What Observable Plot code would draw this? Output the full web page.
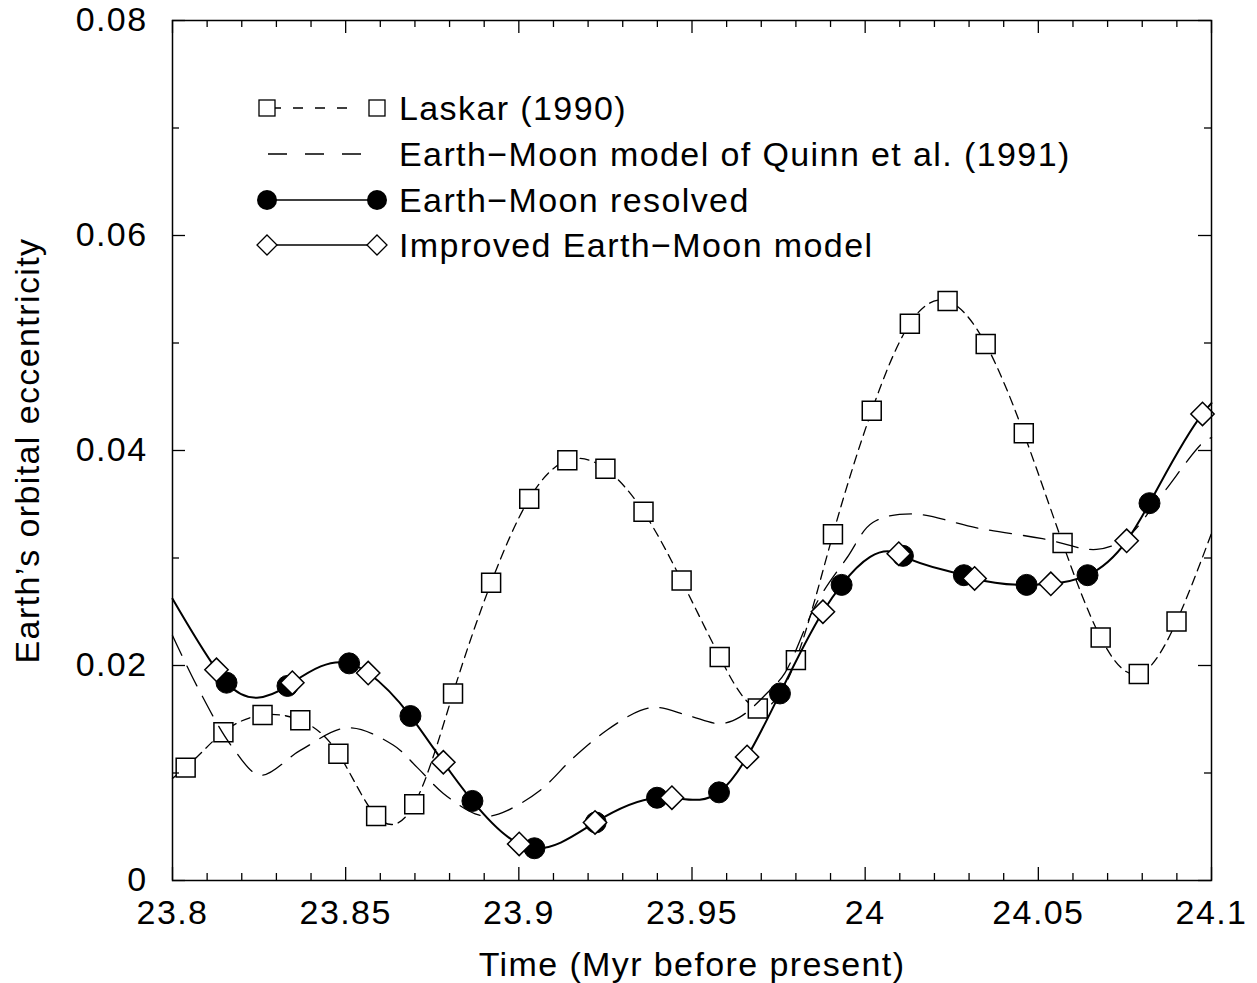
<!DOCTYPE html>
<html>
<head>
<meta charset="utf-8">
<script src="https://cdn.jsdelivr.net/npm/d3@7"></script>
<script src="https://cdn.jsdelivr.net/npm/@observablehq/plot@0.6"></script>
<style>
  body { margin: 0; background: #fff; }
  #wrap { position: relative; width: 1257px; height: 983px; overflow: hidden; }
  #wrap > svg { position: absolute; left: 0; top: 0; }
</style>
</head>
<body>
<div id="wrap"></div>
<script>
// ---------------- data ----------------
// Laskar (1990): open squares
const laskarT = [23.8038, 23.8147, 23.8260, 23.8369, 23.8479, 23.8588, 23.8698, 23.8810, 23.8920, 23.9030,
                 23.9140, 23.9250, 23.9360, 23.9470, 23.9580, 23.9690, 23.9800, 23.9907, 24.0019, 24.0129,
                 24.0238, 24.0348, 24.0458, 24.0570, 24.0680, 24.0790, 24.0899];
const laskarE = [0.0105, 0.0138, 0.0154, 0.0149, 0.0118, 0.0060, 0.0071, 0.0174, 0.0277, 0.0355,
                 0.0391, 0.0383, 0.0343, 0.0279, 0.0208, 0.0160, 0.0205, 0.0322, 0.0437, 0.0518,
                 0.0539, 0.0499, 0.0416, 0.0314, 0.0226, 0.0192, 0.0241];
// where the Laskar curve meets the frame edges
const laskarEdgeT = [23.8, 24.1];
const laskarEdgeE = [0.0095, 0.0323];

// Earth-Moon model of Quinn et al. (1991): long-dashed curve (traced)
const quinnT = [23.8000, 23.8072, 23.8173, 23.8254, 23.8369, 23.8505, 23.8637, 23.8707, 23.8782, 23.8874,
                23.8917, 23.8966, 23.9062, 23.9157, 23.9255, 23.9350, 23.9399, 23.9494, 23.9581, 23.9638,
                23.9725, 23.9768, 23.9863, 23.9947, 24.0022, 24.0137, 24.0322, 24.0512, 24.0668, 24.0755,
                24.0850, 24.0974, 24.1000];
const quinnE = [0.0228, 0.0180, 0.0124, 0.0098, 0.0121, 0.0142, 0.0126, 0.0105, 0.0081, 0.0062,
                0.0060, 0.0065, 0.0084, 0.0114, 0.0140, 0.0158, 0.0161, 0.0153, 0.0146, 0.0152,
                0.0177, 0.0193, 0.0260, 0.0300, 0.0333, 0.0341, 0.0328, 0.0318, 0.0308, 0.0319,
                0.0356, 0.0407, 0.0412];

// Earth-Moon resolved: filled circles
const resolvedT = [23.8156, 23.8332, 23.8510, 23.8687, 23.8866, 23.9045, 23.9222, 23.9399, 23.9578, 23.9754,
                   23.9932, 24.0109, 24.0285, 24.0466, 24.0642, 24.0821];
const resolvedE = [0.0184, 0.0181, 0.0202, 0.0153, 0.0074, 0.0030, 0.0054, 0.0077, 0.0082, 0.0174,
                   0.0275, 0.0302, 0.0284, 0.0275, 0.0284, 0.0351];

// Improved Earth-Moon model: open diamonds
const improvedT = [23.8127, 23.8346, 23.8565, 23.8782, 23.9001, 23.9220, 23.9442, 23.9659, 23.9878, 24.0097,
                   24.0316, 24.0536, 24.0755, 24.0974];
const improvedE = [0.0196, 0.0184, 0.0193, 0.0110, 0.0034, 0.0054, 0.0077, 0.0115, 0.0250, 0.0304,
                   0.0281, 0.0276, 0.0316, 0.0434];
// where the (practically coincident) solid curves meet the frame edges
const solidEdgeT = [23.8, 24.1];
const solidEdgeE = [0.0262, 0.0444];

// axes
const xTickValues = [23.8, 23.85, 23.9, 23.95, 24.0, 24.05, 24.1];
const xTickLabels = ["23.8", "23.85", "23.9", "23.95", "24", "24.05", "24.1"];
const xMinorTicks = [23.81, 23.82, 23.83, 23.84, 23.86, 23.87, 23.88, 23.89, 23.91, 23.92, 23.93, 23.94,
                     23.96, 23.97, 23.98, 23.99, 24.01, 24.02, 24.03, 24.04, 24.06, 24.07, 24.08, 24.09];
const yTickValues = [0, 0.02, 0.04, 0.06, 0.08];
const yTickLabels = ["0", "0.02", "0.04", "0.06", "0.08"];
const yMinorTicks = [0.01, 0.03, 0.05, 0.07];
const xLabel = "Time (Myr before present)";
const yLabel = "Earth\u2019s orbital eccentricity";

// legend
const legendLabels = ["Laskar (1990)", "Earth\u2212Moon model of Quinn et al. (1991)",
                      "Earth\u2212Moon resolved", "Improved Earth\u2212Moon model"];

// ---------------- build tables ----------------
const pts = (T, E) => T.map((t, i) => ({t, e: E[i]}));
const laskar = pts(laskarT, laskarE);
const laskarCurve = [{t: laskarEdgeT[0], e: laskarEdgeE[0]}, ...laskar, {t: laskarEdgeT[1], e: laskarEdgeE[1]}];
const quinn = pts(quinnT, quinnE);
const resolved = pts(resolvedT, resolvedE);
const improved = pts(improvedT, improvedE);
// the resolved and improved curves coincide in the figure: one solid curve through both point sets
const solidCurve = [...pts(solidEdgeT, solidEdgeE), ...resolved, ...improved]
  .sort((a, b) => a.t - b.t)
  .filter((d, i, arr) => i === 0 || Math.abs(d.t - arr[i - 1].t) > 0.0005);

// natural cubic spline y(x) (like gnuplot "smooth csplines"), as a d3 curve factory
function curveSplineX(context) {
  let xs, ys;
  return {
    areaStart() {}, areaEnd() {},
    lineStart() { xs = []; ys = []; },
    point(x, y) { xs.push(+x); ys.push(+y); },
    lineEnd() {
      const n = xs.length;
      if (n === 0) return;
      context.moveTo(xs[0], ys[0]);
      if (n < 3) { for (let i = 1; i < n; i++) context.lineTo(xs[i], ys[i]); return; }
      const h = [], M = new Array(n).fill(0);
      for (let i = 0; i < n - 1; i++) h.push(xs[i + 1] - xs[i]);
      // tridiagonal system for interior second derivatives
      const a = [], b = [], c = [], r = [];
      for (let i = 1; i < n - 1; i++) {
        a.push(h[i - 1]); b.push(2 * (h[i - 1] + h[i])); c.push(h[i]);
        r.push(6 * ((ys[i + 1] - ys[i]) / h[i] - (ys[i] - ys[i - 1]) / h[i - 1]));
      }
      const m = b.length;
      for (let i = 1; i < m; i++) {
        const w = a[i] / b[i - 1];
        b[i] -= w * c[i - 1]; r[i] -= w * r[i - 1];
      }
      const sol = new Array(m);
      sol[m - 1] = r[m - 1] / b[m - 1];
      for (let i = m - 2; i >= 0; i--) sol[i] = (r[i] - c[i] * sol[i + 1]) / b[i];
      for (let i = 0; i < m; i++) M[i + 1] = sol[i];
      for (let i = 0; i < n - 1; i++) {
        const hi = h[i], s = (ys[i + 1] - ys[i]) / hi;
        const d0 = s - hi * (2 * M[i] + M[i + 1]) / 6;
        const d1 = s + hi * (M[i] + 2 * M[i + 1]) / 6;
        context.bezierCurveTo(xs[i] + hi / 3, ys[i] + d0 * hi / 3,
                              xs[i + 1] - hi / 3, ys[i + 1] - d1 * hi / 3,
                              xs[i + 1], ys[i + 1]);
      }
    }
  };
}

const FONT = "'Liberation Sans', Arial, Helvetica, sans-serif";
const X0 = 23.8, X1 = 24.1, Y0 = 0, Y1 = 0.08;

const chart = Plot.plot({
  width: 1257,
  height: 983,
  marginLeft: 172,
  marginRight: 46,
  marginTop: 20,
  marginBottom: 103,
  x: {domain: [X0, X1]},
  y: {domain: [Y0, Y1]},
  style: {fontFamily: FONT, fontSize: "34px", letterSpacing: "1.4px", color: "black", background: "white", overflow: "visible"},
  marks: [
    // Laskar curve & squares
    Plot.line(laskarCurve, {x: "t", y: "e", curve: curveSplineX, stroke: "black", strokeWidth: 1.3, strokeDasharray: "9,6"}),
    Plot.dot(laskar, {x: "t", y: "e", symbol: "square", r: 10.7, fill: "white", stroke: "black", strokeWidth: 1.5}),
    // Quinn et al.
    Plot.line(quinn, {x: "t", y: "e", curve: "catmull-rom", stroke: "black", strokeWidth: 1.3, strokeDasharray: "22,12"}),
    // solid curve
    Plot.line(solidCurve, {x: "t", y: "e", curve: curveSplineX, stroke: "black", strokeWidth: 2}),
    Plot.dot(resolved, {x: "t", y: "e", symbol: "circle", r: 10.5, fill: "black", stroke: "black", strokeWidth: 1}),
    Plot.dot(improved, {x: "t", y: "e", symbol: "diamond2", r: 10.5, fill: "white", stroke: "black", strokeWidth: 1.5}),
    // frame
    Plot.frame({stroke: "black", strokeWidth: 1.5}),
    // inward ticks: bottom / top
    Plot.ruleX(xTickValues, {x: d => d, y1: Y0, y2: Y0, insetTop: -13, stroke: "black", strokeWidth: 1.3}),
    Plot.ruleX(xTickValues, {x: d => d, y1: Y1, y2: Y1, insetBottom: -13, stroke: "black", strokeWidth: 1.3}),
    Plot.ruleX(xMinorTicks, {x: d => d, y1: Y0, y2: Y0, insetTop: -7, stroke: "black", strokeWidth: 1.3}),
    Plot.ruleX(xMinorTicks, {x: d => d, y1: Y1, y2: Y1, insetBottom: -7, stroke: "black", strokeWidth: 1.3}),
    // inward ticks: left / right
    Plot.ruleY(yTickValues, {y: d => d, x1: X0, x2: X0, insetRight: -13, stroke: "black", strokeWidth: 1.3}),
    Plot.ruleY(yTickValues, {y: d => d, x1: X1, x2: X1, insetLeft: -13, stroke: "black", strokeWidth: 1.3}),
    Plot.ruleY(yMinorTicks, {y: d => d, x1: X0, x2: X0, insetRight: -7, stroke: "black", strokeWidth: 1.3}),
    Plot.ruleY(yMinorTicks, {y: d => d, x1: X1, x2: X1, insetLeft: -7, stroke: "black", strokeWidth: 1.3}),
    // axis labels
    Plot.axisX({
      anchor: "bottom", ticks: xTickValues, tickSize: 0, tickPadding: 19,
      tickFormat: d => xTickLabels[xTickValues.indexOf(d)],
      label: xLabel, labelAnchor: "center", labelArrow: "none", labelOffset: 95,
      fontSize: 34, fill: "black"
    }),
    Plot.axisY({
      anchor: "left", ticks: yTickValues, tickSize: 0, tickPadding: 25,
      tickFormat: d => yTickLabels[yTickValues.indexOf(d)],
      label: yLabel, labelAnchor: "center", labelArrow: "none", labelOffset: 158,
      fontSize: 34, fill: "black"
    })
  ]
});

const wrap = document.getElementById("wrap");
wrap.appendChild(chart);

// ---------------- legend overlay (inside plot area, top-left) ----------------
const leg = d3.select(wrap).append("svg")
  .attr("width", 1257).attr("height", 983)
  .style("pointer-events", "none")
  .style("font-family", FONT).style("font-size", "34px").style("letter-spacing", "1.4px");

const rowY = [108, 154, 200, 245];
const xa = 267, xb = 377, xt = 399;

// row 0: Laskar
leg.append("line").attr("x1", 271).attr("x2", 350).attr("y1", rowY[0]).attr("y2", rowY[0])
  .attr("stroke", "black").attr("stroke-width", 1.3).attr("stroke-dasharray", "10,12");
[xa, xb].forEach(x => leg.append("rect").attr("x", x - 8).attr("y", rowY[0] - 8).attr("width", 16).attr("height", 16)
  .attr("fill", "white").attr("stroke", "black").attr("stroke-width", 1.3));
// row 1: Quinn
leg.append("line").attr("x1", 268).attr("x2", 362).attr("y1", rowY[1]).attr("y2", rowY[1])
  .attr("stroke", "black").attr("stroke-width", 1.3).attr("stroke-dasharray", "19,18");
// row 2: resolved
leg.append("line").attr("x1", xa).attr("x2", xb).attr("y1", rowY[2]).attr("y2", rowY[2])
  .attr("stroke", "black").attr("stroke-width", 1.5);
[xa, xb].forEach(x => leg.append("circle").attr("cx", x).attr("cy", rowY[2]).attr("r", 10).attr("fill", "black"));
// row 3: improved
leg.append("line").attr("x1", xa).attr("x2", xb).attr("y1", rowY[3]).attr("y2", rowY[3])
  .attr("stroke", "black").attr("stroke-width", 1.5);
[xa, xb].forEach(x => leg.append("path")
  .attr("d", `M${x},${rowY[3] - 10}L${x + 10},${rowY[3]}L${x},${rowY[3] + 10}L${x - 10},${rowY[3]}Z`)
  .attr("fill", "white").attr("stroke", "black").attr("stroke-width", 1.3));

legendLabels.forEach((s, i) => leg.append("text")
  .attr("x", xt).attr("y", rowY[i]).attr("dy", "0.36em").attr("fill", "black").text(s));
</script>
</body>
</html>
